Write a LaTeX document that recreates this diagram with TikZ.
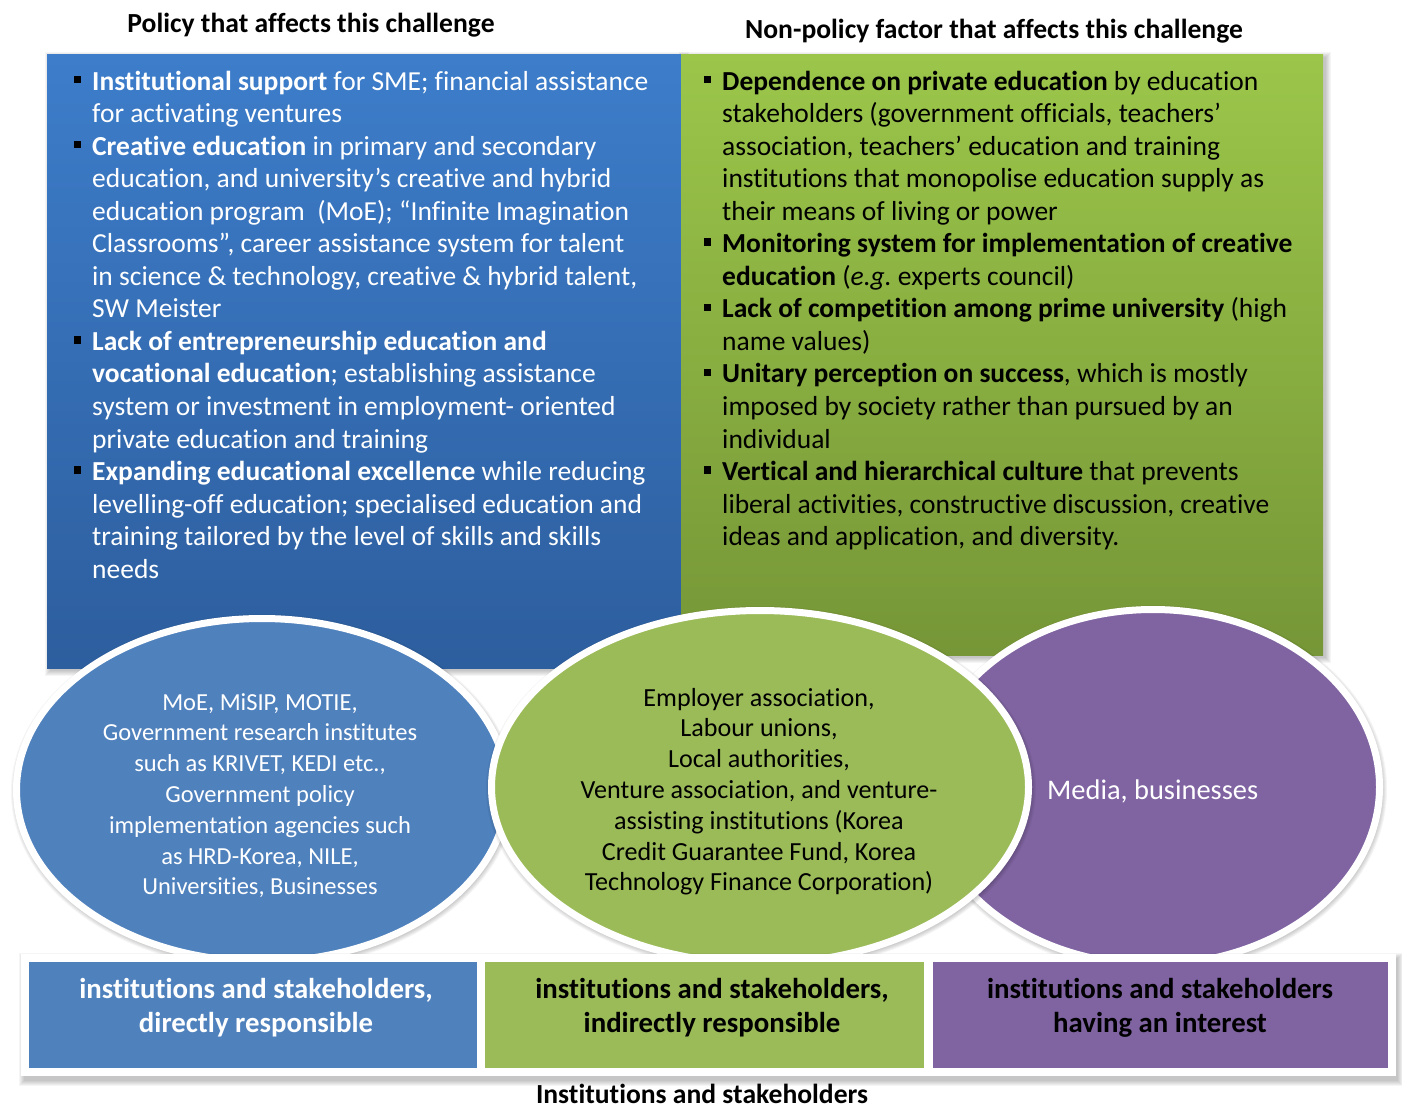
\documentclass[tikz,border=0pt]{standalone}
\usepackage{fontspec}
\setmainfont{Carlito}[Ligatures=NoCommon]
\usetikzlibrary{shapes.geometric}
\definecolor{bluetop}{RGB}{61,125,202}
\definecolor{bluebot}{RGB}{45,94,158}
\definecolor{greentop}{RGB}{155,198,74}
\definecolor{greenbot}{RGB}{118,150,55}
\definecolor{ellblue}{RGB}{79,129,189}
\definecolor{ellgreen}{RGB}{155,187,89}
\definecolor{ellpurple}{RGB}{128,100,162}
\newcommand\sqb{\leavevmode\llap{{\color{black}\raisebox{6.8pt}{\rule{7.5pt}{7.5pt}}}\hspace{11pt}}}
\begin{document}
\begin{tikzpicture}[x=1pt,y=-1pt,
  panel/.style={anchor=north west, inner sep=0, draw=none},
  bodytxt/.style={anchor=base west, inner sep=0, font=\fontsize{27.5}{32.55}\selectfont},
  elltxt/.style={anchor=base, inner sep=0},
  oval/.style={ellipse, inner sep=0, draw=white, line width=7pt},
  catbox/.style={rectangle, inner sep=0, draw=white, line width=8pt},
  cattxt/.style={anchor=base, inner sep=0, font=\fontsize{28.8}{34}\selectfont\bfseries},
  ttl/.style={anchor=base, inner sep=0, font=\fontsize{27.6}{30}\selectfont\bfseries},
  shd/.style={fill=black, opacity=0.04}]
\useasboundingbox (0,0) rectangle (1402,1108);
\fill[white] (0,0) rectangle (1402,1108);

% titles
\node[ttl] (t1) at (311,33) {Policy that affects this challenge};
\node[ttl] (t2) at (994,38) {Non-policy factor that affects this challenge};
\node[ttl] (t3) at (702,1103) {Institutions and stakeholders};

% panel shadows
\foreach \i in {1,...,6}{
  \fill[shd] (47+4-\i,54+4-\i) rectangle (681+2+\i,668+2+\i);
  \fill[shd] (681+4-\i,54+4-\i) rectangle (1323+2+\i,655+2+\i);
}
% panels
\node[panel, top color=bluetop, bottom color=bluebot, minimum width=634, minimum height=614] (pol) at (47,54) {};
\node[panel, top color=greentop, bottom color=greenbot, minimum width=642, minimum height=601] (npol) at (681,54) {};

\node[bodytxt, text=white] (poltxt) at (92,90) {\parbox[t]{620pt}{\raggedright
\sqb\textbf{Institutional support} for SME; financial assistance\\
for activating ventures\\
\sqb\textbf{Creative education} in primary and secondary\\
education, and university’s creative and hybrid\\
education program~ (MoE); “Infinite Imagination\\
Classrooms”, career assistance system for talent\\
in science \& technology, creative \& hybrid talent,\\
SW Meister\\
\sqb\textbf{Lack of entrepreneurship education and}\\
\textbf{vocational education}; establishing assistance\\
system or investment in employment- oriented\\
private education and training\\
\sqb\textbf{Expanding educational excellence} while reducing\\
levelling-off education; specialised education and\\
training tailored by the level of skills and skills\\
needs}};

\node[bodytxt, text=black] (npoltxt) at (722,90) {\parbox[t]{620pt}{\raggedright
\sqb\textbf{Dependence on private education} by education\\
stakeholders (government officials, teachers’\\
association, teachers’ education and training\\
institutions that monopolise education supply as\\
their means of living or power\\
\sqb\textbf{Monitoring system for implementation of creative}\\
\textbf{education} (\textit{e.g.}\ experts council)\\
\sqb\textbf{Lack of competition among prime university} (high\\
name values)\\
\sqb\textbf{Unitary perception on success}, which is mostly\\
imposed by society rather than pursued by an\\
individual\\
\sqb\textbf{Vertical and hierarchical culture} that prevents\\
liberal activities, constructive discussion, creative\\
ideas and application, and diversity.}};

% ellipse shadows
\foreach \i in {1,...,6}{
  \fill[shd] (262+1,790+2) ellipse [x radius=246+\i, y radius=172+\i];
  \fill[shd] (1153+1,787+2) ellipse [x radius=227+\i, y radius=178+\i];
}
% ellipses
\node[oval, fill=ellblue, minimum width=491, minimum height=343] (eb) at (262,790) {};
\node[oval, fill=ellpurple, minimum width=453, minimum height=355] (ep) at (1153,787) {};
\foreach \i in {1,...,6}{
  \fill[shd] (760+1,787+2) ellipse [x radius=269+\i, y radius=177+\i];
}
\node[oval, fill=ellgreen, minimum width=537, minimum height=353] (eg) at (760,787) {};

\node[elltxt, text=white, font=\fontsize{24.5}{30.83}\selectfont] (ebt) at (260,710) {\parbox[t]{480pt}{\centering
MoE, MiSIP, MOTIE,\\
Government research institutes\\
such as KRIVET, KEDI etc.,\\
Government policy\\
implementation agencies such\\
as HRD-Korea, NILE,\\
Universities, Businesses}};
\node[elltxt, text=black, font=\fontsize{26.1}{30.83}\selectfont] (egt) at (759,706) {\parbox[t]{520pt}{\centering
Employer association,\\
Labour unions,\\
Local authorities,\\
Venture association, and venture-\\
assisting institutions (Korea\\
Credit Guarantee Fund, Korea\\
Technology Finance Corporation)}};
\node[elltxt, anchor=base west, text=white, font=\fontsize{28.4}{32}\selectfont] (ept) at (1047,799) {Media, businesses};

% category box shadows
\foreach \i in {1,...,6}{
  \fill[shd] (21+4-\i,954+5-\i) rectangle (1396+1+\i,1076+4+\i);
}
% category boxes
\node[catbox, fill=ellblue, minimum width=456, minimum height=114] (cb) at (253,1015) {};
\node[catbox, fill=ellgreen, minimum width=447, minimum height=114] (cg) at (704.5,1015) {};
\node[catbox, fill=ellpurple, minimum width=463, minimum height=114] (cp) at (1160.5,1015) {};

\node[cattxt, text=white] (cbt) at (256,998) {\parbox[t]{440pt}{\centering institutions and stakeholders,\\ directly responsible}};
\node[cattxt, text=black] (cgt) at (712,998) {\parbox[t]{440pt}{\centering institutions and stakeholders,\\ indirectly responsible}};
\node[cattxt, text=black] (cpt) at (1160,998) {\parbox[t]{440pt}{\centering institutions and stakeholders\\ having an interest}};
\end{tikzpicture}
\end{document}
